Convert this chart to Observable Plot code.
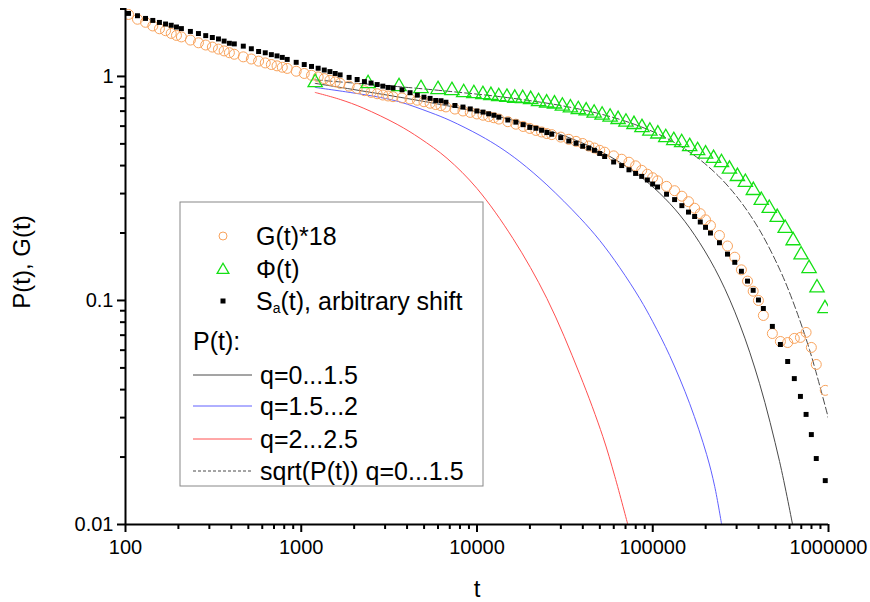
<!DOCTYPE html>
<html>
<head>
<meta charset="utf-8">
<script src="https://cdn.jsdelivr.net/npm/d3@7"></script>
<script src="https://cdn.jsdelivr.net/npm/@observablehq/plot@0.6"></script>
<style>
  html, body { margin: 0; padding: 0; background: #fff; }
  #chart { width: 870px; height: 602px; }
</style>
</head>
<body>
<div id="chart"></div>
<script>
// ---- Data ----
// shared time grid for G(t)*18 and S_a(t)
const tGrid = [
  104,117,130,143,156,169,182,195,
  208,234,260,286,312,338,364,390,
  416,468,520,572,624,676,728,780,
  832,936,1040,1144,1248,1352,1456,1560,
  1664,1872,2080,2288,2496,2704,2912,3120,
  3328,3744,4160,4576,4992,5408,5824,6240,
  6656,7488,8320,9152,9984,10816,11648,12480,
  13312,14976,16640,18304,19968,21632,23296,24960,
  26624,29952,33280,36608,39936,43264,46592,49920,
  53248,59904,66560,73216,79872,86528,93184,99840,
  106496,119808,133120,146432,159744,173056,186368,199680,
  212992,239616,266240,292864,319488,346112,372736,399360,
  425984,479232,532480,585728,638976,692224,745472,798720,
  851968,958464
];
// G(t)*18 (orange open circles)
const gVals = [
  1.891,1.800,1.744,1.680,1.632,1.600,1.556,1.524,
  1.501,1.453,1.413,1.381,1.352,1.324,1.300,1.276,
  1.256,1.223,1.196,1.170,1.149,1.130,1.115,1.099,
  1.086,1.055,1.031,1.012,0.995,0.978,0.961,0.946,
  0.932,0.905,0.883,0.864,0.849,0.837,0.826,0.818,
  0.812,0.802,0.793,0.783,0.771,0.759,0.749,0.740,
  0.731,0.715,0.701,0.691,0.680,0.671,0.662,0.654,
  0.645,0.628,0.612,0.598,0.586,0.574,0.565,0.556,
  0.550,0.536,0.524,0.513,0.502,0.489,0.479,0.468,
  0.459,0.442,0.427,0.414,0.399,0.381,0.366,0.353,
  0.342,0.323,0.309,0.292,0.276,0.258,0.244,0.229,
  0.216,0.195,0.175,0.156,0.137,0.122,0.110,0.100,
  0.0857,0.0712,0.0656,0.0649,0.0677,0.0684,0.0720,0.0617,
  0.0518,0.0397
];
// S_a(t), arbitrary shift (black squares)
const sVals = [
  1.911,1.866,1.815,1.778,1.742,1.714,1.692,1.662,
  1.635,1.588,1.554,1.521,1.492,1.470,1.438,1.406,
  1.397,1.365,1.329,1.292,1.275,1.251,1.235,1.216,
  1.191,1.156,1.130,1.108,1.088,1.068,1.051,1.031,
  1.016,0.990,0.969,0.948,0.934,0.920,0.905,0.893,
  0.889,0.872,0.846,0.825,0.808,0.798,0.781,0.779,
  0.767,0.742,0.730,0.716,0.701,0.693,0.681,0.671,
  0.658,0.639,0.625,0.609,0.592,0.587,0.575,0.562,
  0.552,0.533,0.515,0.503,0.488,0.479,0.468,0.453,
  0.439,0.415,0.400,0.383,0.369,0.358,0.345,0.331,
  0.321,0.298,0.282,0.265,0.248,0.237,0.224,0.212,
  0.200,0.181,0.161,0.148,0.135,0.122,0.111,0.1005,
  0.0921,0.0766,0.0636,0.0534,0.0448,0.0373,0.0310,0.0252,
  0.0197,0.0157
];
// Phi(t) (green open triangles)
const phiT = [
  1200,2400,3600,4800,6000,7200,8400,9600,10800,12000,
  13300,14800,16400,18200,20200,22400,24900,27600,30600,34000,
  37700,41800,46400,51500,57200,63500,70400,78200,86800,96300,
  106900,118600,131700,146100,162200,180000,199800,221800,246100,273200,
  303200,336500,373500,414500,460100,510700,566800,629100,698200,775000,
  860100,954700
];
const phiVals = [
  0.940,0.930,0.902,0.884,0.875,0.866,0.848,0.839,0.831,0.823,
  0.814,0.808,0.800,0.798,0.790,0.773,0.762,0.754,0.738,0.725,
  0.712,0.702,0.687,0.673,0.659,0.643,0.626,0.611,0.592,0.571,
  0.554,0.534,0.518,0.507,0.487,0.467,0.451,0.431,0.413,0.386,
  0.358,0.337,0.310,0.280,0.258,0.235,0.210,0.185,0.160,0.139,
  0.114,0.092
];
// P(t), q = 0...1.5 (dark grey line)
const pQ0T = [1201,1898,3652,7025,13510,25990,38480,50000,64940,84370,109600,142400,184900,240300,312200,405500,526800,624500];
const pQ0V = [0.931,0.879,0.807,0.736,0.659,0.571,0.510,0.464,0.414,0.359,0.301,0.241,0.181,0.126,0.0785,0.0425,0.0191,0.0100];
// P(t), q = 1.5...2 (blue line)
const pQ15T = [1201,1898,2812,3652,5408,7025,10400,13510,17550,24990,38480,50000,64940,84370,100000,124900,162300,202700,225100,246600];
const pQ15V = [0.893,0.848,0.806,0.769,0.691,0.636,0.545,0.482,0.416,0.328,0.234,0.185,0.140,0.102,0.0804,0.0567,0.0346,0.0205,0.0148,0.0100];
// P(t), q = 2...2.5 (red line)
const pQ2T = [1201,1666,2249,3512,4745,6753,10000,16020,24990,38480,51990,60830,72100];
const pQ2V = [0.848,0.789,0.723,0.611,0.529,0.431,0.316,0.189,0.102,0.0467,0.0247,0.0164,0.0100];
// sqrt(P(t)), q = 0...1.5 (dashed grey line)
const sqT = [1201,1898,3652,7025,13510,25990,38480,50000,64940,84370,109600,142400,184900,240300,312200,405500,526800,624500,779800,1000000];
const sqV = [0.965,0.937,0.899,0.857,0.812,0.756,0.714,0.681,0.643,0.599,0.549,0.491,0.426,0.355,0.280,0.206,0.138,0.100,0.0603,0.0297];

// axis ticks
const xMajor = [100,1000,10000,100000,1000000];
const xMinor = [200,300,400,500,600,700,800,900,2000,3000,4000,5000,6000,7000,8000,9000,
  20000,30000,40000,50000,60000,70000,80000,90000,200000,300000,400000,500000,600000,700000,800000,900000];
const yMajor = [0.01,0.1,1];
const yMinor = [0.02,0.03,0.04,0.05,0.06,0.07,0.08,0.09,0.2,0.3,0.4,0.5,0.6,0.7,0.8,0.9,2];
const yTickLabels = {0.01: "0.01", 0.1: "0.1", 1: "1"};

// ---- styles ----
const FONT = "'Liberation Sans', Arial, Helvetica, sans-serif";
const cOrange = "#F9A35C", cGreen = "#14E014", cGrey = "#4a4a4a", cBlue = "#6060FF", cRed = "#FF5050";

const plot = Plot.plot({
  width: 870,
  height: 602,
  marginLeft: 125,
  marginRight: 42,
  marginTop: 8,
  marginBottom: 78,
  style: {fontFamily: FONT, color: "black", background: "white", overflow: "visible"},
  x: {type: "log", domain: [100, 1000000], axis: null},
  y: {type: "log", domain: [0.01, 2.01], axis: null},
  marks: [
    Plot.line(pQ0V, {x: pQ0T, y: pQ0V, stroke: cGrey, strokeWidth: 1, curve: "catmull-rom", clip: true}),
    Plot.line(pQ15V, {x: pQ15T, y: pQ15V, stroke: cBlue, strokeWidth: 1, curve: "catmull-rom", clip: true}),
    Plot.line(pQ2V, {x: pQ2T, y: pQ2V, stroke: cRed, strokeWidth: 1, curve: "catmull-rom", clip: true}),
    Plot.line(sqV, {x: sqT, y: sqV, stroke: cGrey, strokeWidth: 1, strokeDasharray: "7,3", curve: "catmull-rom", clip: true}),
    Plot.dot(gVals, {x: tGrid, y: gVals, symbol: "circle", r: 5, stroke: cOrange, fill: "none", strokeWidth: 1, clip: true}),
    Plot.dot(phiVals, {x: phiT, y: phiVals, symbol: "triangle", r: 5.3, stroke: cGreen, fill: "none", strokeWidth: 1.3, clip: true}),
    Plot.dot(sVals, {x: tGrid, y: sVals, symbol: "square", r: 2.8, fill: "black", stroke: "none", clip: true}),
    // axis lines
    Plot.ruleY([0.01], {stroke: "black", strokeWidth: 2}),
    Plot.ruleX([100], {stroke: "black", strokeWidth: 2}),
    // x axis
    Plot.axisX({ticks: xMajor, tickFormat: d => String(d), tickSize: 8, tickPadding: 7, fontSize: 20, strokeWidth: 2, label: null}),
    Plot.axisX({ticks: xMinor, tickFormat: () => "", tickSize: 5, strokeWidth: 2, label: null}),
    // y axis
    Plot.axisY({ticks: yMajor, tickFormat: d => yTickLabels[d], tickSize: 8, tickPadding: 4, fontSize: 20, strokeWidth: 2, label: null}),
    Plot.axisY({ticks: yMinor, tickFormat: () => "", tickSize: 5, strokeWidth: 2, label: null})
  ]
});

document.getElementById("chart").appendChild(plot);

// ---- axis titles & legend ----
const svg = d3.select(plot);
svg.append("text").attr("x", 477).attr("y", 588)
  .attr("text-anchor", "middle").attr("dominant-baseline", "central")
  .attr("font-size", 24).attr("font-family", FONT).attr("fill", "black").text("t");
svg.append("text").attr("transform", "translate(21,262) rotate(-90)")
  .attr("text-anchor", "middle").attr("dominant-baseline", "central")
  .attr("font-size", 24).attr("font-family", FONT).attr("fill", "black").text("P(t), G(t)");

const lg = svg.append("g").attr("font-family", FONT).attr("font-size", 25)
  .attr("fill", "black").attr("text-anchor", "start");
lg.append("rect").attr("x", 180).attr("y", 202).attr("width", 303).attr("height", 284)
  .attr("fill", "white").attr("stroke", "#888").attr("stroke-width", 1);

const symX = 223, txtX = 256;
// circle
lg.append("circle").attr("cx", symX).attr("cy", 236).attr("r", 4).attr("fill", "none").attr("stroke", cOrange).attr("stroke-width", 1);
lg.append("text").attr("x", txtX).attr("y", 236).attr("dominant-baseline", "central").text("G(t)*18");
// triangle
lg.append("path").attr("d", d3.symbol(d3.symbolTriangle, 60)()).attr("transform", `translate(${symX},270)`)
  .attr("fill", "none").attr("stroke", cGreen).attr("stroke-width", 1.3);
lg.append("text").attr("x", txtX).attr("y", 269).attr("dominant-baseline", "central").text("Φ(t)");
// square
lg.append("rect").attr("x", symX - 2.5).attr("y", 301 - 2.5).attr("width", 5).attr("height", 5).attr("fill", "black");
const st = lg.append("text").attr("x", txtX).attr("y", 301).attr("dominant-baseline", "central");
st.append("tspan").text("S");
st.append("tspan").attr("font-size", 14).attr("dy", 7).text("a");
st.append("tspan").attr("dy", -7).text("(t), arbitrary shift");
// P(t):
lg.append("text").attr("x", 193).attr("y", 341).attr("dominant-baseline", "central").text("P(t):");
const rows = [
  {y: 375, c: cGrey, dash: null, label: "q=0...1.5"},
  {y: 406, c: cBlue, dash: null, label: "q=1.5...2"},
  {y: 439, c: cRed, dash: null, label: "q=2...2.5"},
  {y: 471, c: cGrey, dash: "3,2", label: "sqrt(P(t)) q=0...1.5"}
];
for (const r of rows) {
  const ln = lg.append("line").attr("x1", 193).attr("x2", 252).attr("y1", r.y).attr("y2", r.y)
    .attr("stroke", r.c).attr("stroke-width", 1);
  if (r.dash) ln.attr("stroke-dasharray", r.dash);
  lg.append("text").attr("x", 260).attr("y", r.y).attr("dominant-baseline", "central").text(r.label);
}
</script>
</body>
</html>
